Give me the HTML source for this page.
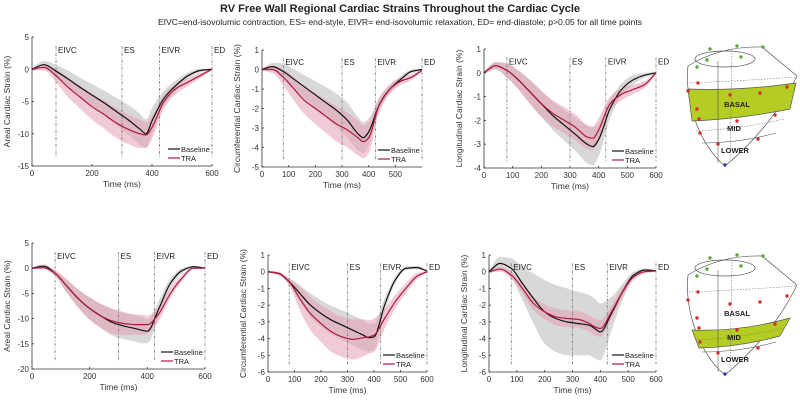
<!DOCTYPE html>
<html><head><meta charset="utf-8">
<style>
body{margin:0;background:#fff;width:800px;height:400px;overflow:hidden;font-family:"Liberation Sans",Arial,sans-serif}
svg text{font-family:"Liberation Sans",Arial,sans-serif}
</style></head>
<body>
<svg id="fig" width="800" height="400" viewBox="0 0 800 400">
<text x="400" y="12" text-anchor="middle" font-size="11" font-weight="bold" fill="#222">RV Free Wall Regional Cardiac Strains Throughout the Cardiac Cycle</text>
<text x="400" y="25" text-anchor="middle" font-size="8.6" fill="#222">EIVC=end-isovolumic contraction, ES= end-style, EIVR= end-isovolumic relaxation, ED= end-diastole; p&gt;0.05 for all time points</text>
<g id="heart1"></g>
<g id="heart2"></g>
</svg>
<script>
// shared data
const times=[0,40,80,120,160,200,240,280,320,360,380,400,440,480,520,560,600];
const events=[80,300,425,600];
const eventLabels=["EIVC","ES","EIVR","ED"];
// panel 1 areal top
const p1Base=[0,0.7,-0.3,-1.5,-2.8,-4,-5.2,-6.5,-7.8,-9.3,-10,-8,-4.5,-2.5,-1,-0.2,0];
const p1BaseSd=[0.2,0.6,1,1.3,1.5,1.7,1.9,2.1,2.3,2.4,2.2,2,1.2,0.8,0.5,0.3,0.1];
const p1Tra=[0,0.3,-1,-2.8,-4.3,-5.8,-7,-8.3,-9.3,-10,-10.2,-9,-5,-3,-2,-1,0];
const p1TraSd=[0.2,0.5,1,1.5,1.8,2,2.2,2.3,2.3,2.2,2,1.8,1.1,0.8,0.6,0.4,0.1];
// panel 2 circumferential top
const p2Base=[0,0.15,-0.1,-0.5,-0.9,-1.3,-1.7,-2.1,-2.6,-3.3,-3.5,-3.2,-1.8,-1,-0.5,-0.1,0];
const p2BaseSd=[0.05,0.2,0.4,0.5,0.6,0.7,0.8,0.85,0.9,0.85,0.8,0.7,0.3,0.2,0.15,0.1,0.05];
const p2Tra=[0,0,-0.4,-1,-1.6,-2,-2.4,-2.8,-3.1,-3.5,-3.7,-3.5,-1.8,-1,-0.6,-0.4,-0.05];
const p2TraSd=[0.05,0.2,0.4,0.6,0.7,0.8,0.85,0.9,0.9,0.9,0.85,0.8,0.4,0.25,0.2,0.15,0.05];
// panel 3 longitudinal top
const p3Base=[0,0.3,0.1,-0.3,-0.8,-1.3,-1.8,-2.2,-2.6,-3,-3.1,-2.8,-1.5,-0.7,-0.3,-0.1,0];
const p3BaseSd=[0.05,0.15,0.3,0.4,0.5,0.55,0.6,0.65,0.7,0.8,0.8,0.7,0.4,0.25,0.2,0.1,0.05];
const p3Tra=[0,0.3,0.1,-0.3,-0.8,-1.3,-1.7,-2,-2.3,-2.7,-2.75,-2.4,-1.3,-0.9,-0.7,-0.5,0];
const p3TraSd=[0.05,0.15,0.3,0.4,0.5,0.55,0.55,0.55,0.55,0.5,0.5,0.5,0.3,0.25,0.2,0.15,0.05];
// panel 4 areal bottom
const p4Base=[0,0.4,-1,-3.5,-6,-8,-9.5,-10.8,-11.5,-12,-12.3,-12.5,-8,-3,-0.5,0.3,0];
const p4BaseSd=[0.2,0.4,0.6,1.3,1.8,2.2,2.4,2.6,2.6,2.6,2.6,2.4,1.6,1,0.5,0.2,0.1];
const p4Tra=[0,0.1,-1,-3.5,-6,-8,-9.5,-10.5,-11,-11.2,-11.2,-11.2,-9,-5,-2,0,0];
const p4TraSd=[0.2,0.3,0.6,1.3,1.8,2.2,2.4,2.5,2.3,2,2,1.8,1.4,1,0.6,0.2,0.1];
// panel 5 circumferential bottom
const p5Base=[0,-0.1,-0.6,-1.3,-2,-2.5,-2.9,-3.2,-3.5,-3.8,-3.95,-3.9,-2,-0.5,0.2,0.25,0.05];
const p5BaseSd=[0.05,0.1,0.2,0.5,0.7,0.8,0.85,0.9,0.9,0.9,0.85,0.8,0.4,0.2,0.1,0.1,0.05];
const p5Tra=[0,-0.1,-0.6,-1.6,-2.5,-3.1,-3.6,-3.9,-4.05,-3.95,-3.9,-3.8,-2.8,-1.8,-1,-0.3,0];
const p5TraSd=[0.05,0.1,0.2,0.7,1,1.1,1.2,1.2,1.2,1.1,1,1,0.6,0.4,0.3,0.2,0.05];
// panel 6 longitudinal bottom
const p6Base=[0,0.5,0.2,-0.7,-1.6,-2.4,-2.8,-3,-3.1,-3.2,-3.4,-3.6,-2.5,-1.2,-0.2,0.1,0.05];
const p6BaseSd=[0.1,0.4,0.6,1,1.5,1.9,2,2,1.9,1.8,1.8,1.7,1,0.5,0.2,0.1,0.05];
const p6Tra=[0,0.15,-0.2,-1,-1.9,-2.4,-2.7,-2.8,-2.85,-3.1,-3.3,-3.4,-2.4,-1.2,-0.3,0,0.05];
const p6TraSd=[0.05,0.15,0.2,0.3,0.4,0.45,0.5,0.5,0.5,0.5,0.5,0.5,0.4,0.3,0.2,0.1,0.05];

const yTicks1=[5,0,-5,-10,-15], yTicks2=[1,0,-1,-2,-3,-4,-5], yTicks3=[1,0,-1,-2,-3,-4];
const yTicks4=[5,0,-5,-10,-15,-20], yTicks5=[1,0,-1,-2,-3,-4,-5,-6], yTicks6=[1,0,-1,-2,-3,-4,-5,-6];
const xTicksA=[0,200,400,600], xTicksB=[0,100,200,300,400,500], xTicksC=[0,100,200,300,400,500,600];

const panels=[
 {name:"areal-top",x0:32,x1:212,y0:37,y1:166,ymax:5,ymin:-15,yt:yTicks1,xt:xTicksA,lab:"Areal Cardiac Strain (%)",b:p1Base,bs:p1BaseSd,t:p1Tra,ts:p1TraSd},
 {name:"circumferential-top",x0:262,x1:422,y0:50,y1:167,ymax:1,ymin:-5,yt:yTicks2,xt:xTicksB,lab:"Circumferential Cardiac Strain (%)",b:p2Base,bs:p2BaseSd,t:p2Tra,ts:p2TraSd},
 {name:"longitudinal-top",x0:484,x1:656,y0:49,y1:168,ymax:1,ymin:-4,yt:yTicks3,xt:xTicksC,lab:"Longitudinal Cardiac Strain (%)",b:p3Base,bs:p3BaseSd,t:p3Tra,ts:p3TraSd},
 {name:"areal-bottom",x0:32,x1:205,y0:243,y1:369,ymax:5,ymin:-20,yt:yTicks4,xt:xTicksA,lab:"Areal Cardiac Strain (%)",b:p4Base,bs:p4BaseSd,t:p4Tra,ts:p4TraSd},
 {name:"circumferential-bottom",x0:268,x1:427,y0:255,y1:372,ymax:1,ymin:-6,yt:yTicks5,xt:xTicksC,lab:"Circumferential Cardiac Strain (%)",b:p5Base,bs:p5BaseSd,t:p5Tra,ts:p5TraSd},
 {name:"longitudinal-bottom",x0:489,x1:656,y0:255,y1:372,ymax:1,ymin:-6,yt:yTicks6,xt:xTicksC,lab:"Longitudinal Cardiac Strain (%)",b:p6Base,bs:p6BaseSd,t:p6Tra,ts:p6TraSd}
];
const NS="http://www.w3.org/2000/svg";
const fig=document.getElementById('fig');
function mk(tag,attrs,parent){const e=document.createElementNS(NS,tag);for(const k in attrs)e.setAttribute(k,attrs[k]);(parent||fig).appendChild(e);return e;}
function smooth(pts,noMove){
 const n=pts.length, d=[], m=[];
 for(let i=0;i<n-1;i++)d.push((pts[i+1][1]-pts[i][1])/(pts[i+1][0]-pts[i][0]));
 m[0]=d[0]; m[n-1]=d[n-2];
 for(let i=1;i<n-1;i++){ if(d[i-1]*d[i]<=0)m[i]=0; else m[i]=2/(1/d[i-1]+1/d[i]); }
 let s=(noMove?"L":"M")+pts[0][0].toFixed(1)+","+pts[0][1].toFixed(1);
 for(let i=0;i<n-1;i++){const h=(pts[i+1][0]-pts[i][0])/3;
  s+="C"+(pts[i][0]+h).toFixed(1)+","+(pts[i][1]+m[i]*h).toFixed(1)+" "+(pts[i+1][0]-h).toFixed(1)+","+(pts[i+1][1]-m[i+1]*h).toFixed(1)+" "+pts[i+1][0].toFixed(1)+","+pts[i+1][1].toFixed(1);}
 return s;}
panels.forEach(p=>{
 const g=mk('g',{});
 
 
 const X=v=>p.x0+(v-0)/600*(p.x1-p.x0);
 const Y=v=>p.y0+(p.ymax-v)/(p.ymax-p.ymin)*(p.y1-p.y0);
 function band(m,s,fill,nm){
  const up=times.map((t,i)=>[X(t),Y(m[i]+s[i])]);
  const lo=times.map((t,i)=>[X(t),Y(m[i]-s[i])]).reverse();
  const d=smooth(up)+smooth(lo,true)+"Z";
  const e=mk('path',{d:d,fill:fill,'fill-opacity':0.55},g);
  
  
 }
 band(p.b,p.bs,'#b8b8b8','baseline-sd-band');
 band(p.t,p.ts,'#e3a0b2','tra-sd-band');
 events.forEach((ev,i)=>{
  const top=Y(p.ymax)+(p.y1-p.y0)*0.07;
  const l=mk('line',{x1:X(ev),x2:X(ev),y1:top,y2:p.y1-(p.y1-p.y0)*0.06,stroke:'#777','stroke-width':0.8,'stroke-dasharray':'3,1.5,1,1.5'},g);
  
  
  const tx=mk('text',{x:X(ev)+2,y:top+7,'font-size':8,fill:'#222'},g);
  tx.textContent=eventLabels[i];
  
  
 });
 const lb=mk('path',{d:smooth(times.map((t,i)=>[X(t),Y(p.b[i])])),fill:'none',stroke:'#111','stroke-width':1.2},g);
 
 
 const lt=mk('path',{d:smooth(times.map((t,i)=>[X(t),Y(p.t[i])])),fill:'none',stroke:'#b0183e','stroke-width':1.2},g);
 
 
 const ax=mk('path',{d:`M${p.x0},${p.y0}V${p.y1}H${p.x1}`,fill:'none',stroke:'#333','stroke-width':0.8},g);
 
 
 p.yt.forEach(v=>{mk('line',{x1:p.x0,x2:p.x0+2,y1:Y(v),y2:Y(v),stroke:'#333','stroke-width':0.8},g);
  const t=mk('text',{x:p.x0-3,y:Y(v)+3,'font-size':8,'text-anchor':'end',fill:'#333'},g);t.textContent=v;
  
  });
 p.xt.forEach(v=>{mk('line',{x1:X(v),x2:X(v),y1:p.y1,y2:p.y1-2,stroke:'#333','stroke-width':0.8},g);
  const t=mk('text',{x:X(v),y:p.y1+10,'font-size':8,'text-anchor':'middle',fill:'#333'},g);t.textContent=v;
  
  });
 const xl=mk('text',{x:(p.x0+p.x1)/2,y:p.y1+21,'font-size':8.5,'text-anchor':'middle',fill:'#333'},g);xl.textContent='Time (ms)';
 
 
 const cy=(p.y0+p.y1)/2, cx=p.x0-22;
 const yl=mk('text',{x:cx,y:cy,'font-size':8.5,'text-anchor':'middle',fill:'#333',transform:`rotate(-90 ${cx} ${cy})`},g);yl.textContent=p.lab;
 
 
 const lx=p.x1-44, ly=p.y1-17;
 const lg=mk('g',{},g);
 
 
 mk('line',{x1:lx,x2:lx+12,y1:ly,y2:ly,stroke:'#111','stroke-width':1.2},lg);
 const t1=mk('text',{x:lx+13,y:ly+3,'font-size':7.5,fill:'#222'},lg);t1.textContent='Baseline';
 
 
 mk('line',{x1:lx,x2:lx+12,y1:ly+9,y2:ly+9,stroke:'#b0183e','stroke-width':1.2},lg);
 const t2=mk('text',{x:lx+13,y:ly+12,'font-size':7.5,fill:'#222'},lg);t2.textContent='TRA';
 
 
});
function heart(id,oy,band){
 const g=document.getElementById(id);
 const bandPath=band=='basal'
  ? `M688,${oy+48} Q740,${oy+50} 796,${oy+42} L790,${oy+68} Q740,${oy+78} 692,${oy+80}Z`
  : `M692,${oy+80} Q740,${oy+82} 790,${oy+68} L780,${oy+86} Q740,${oy+97} 699,${oy+98}Z`;
 const greens=[[710,8],[737,5],[763,6],[707,19],[741,16],[697,26]];
 const reds=[[698,42],[688,50],[730,54],[760,52],[787,46],[697,68],[699,78],[737,80],[775,74],[700,92],[718,103],[758,98],[725,124]];
 g.innerHTML=`<path d="M688,${oy+25} C684,${oy+60} 700,${oy+105} 725,${oy+125} C755,${oy+100} 780,${oy+70} 797,${oy+35}" fill="#fff" stroke="#555" stroke-width="0.7"/>
 <path d="M688,${oy+25} Q720,${oy+5} 762,${oy+6} L797,${oy+35}" fill="none" stroke="#555" stroke-width="0.7"/>
 <ellipse cx="725" cy="${oy+18}" rx="30" ry="8" fill="none" stroke="#555" stroke-width="0.7"/>
 <path d="${bandPath}" fill="#b5cc22" stroke="#555" stroke-width="0.7"/>
 <path d="M689,${oy+42} Q740,${oy+40} 796,${oy+36}" fill="none" stroke="#777" stroke-width="0.6" stroke-dasharray="1.5,1.5"/>
 <path d="M696,${oy+90} Q740,${oy+88} 784,${oy+78}" fill="none" stroke="#777" stroke-width="0.6" stroke-dasharray="1.5,1.5"/>
 <path d="M702,${oy+102} Q740,${oy+102} 776,${oy+92}" fill="none" stroke="#555" stroke-width="0.6"/>
 <line x1="718" y1="${oy+20}" x2="718" y2="${oy+122}" stroke="#555" stroke-width="0.6"/>
 <line x1="732" y1="${oy+12}" x2="730" y2="${oy+120}" stroke="#777" stroke-width="0.6" stroke-dasharray="1.5,1.5"/>
 <text x="737" y="${oy+66}" font-size="7.5" font-weight="bold" text-anchor="middle" fill="#222">BASAL</text>
 <text x="734" y="${oy+90}" font-size="7.5" font-weight="bold" text-anchor="middle" fill="#222">MID</text>
 <text x="735" y="${oy+112}" font-size="7.5" font-weight="bold" text-anchor="middle" fill="#222">LOWER</text>
 ${greens.map(c=>`<circle cx="${c[0]}" cy="${oy+c[1]}" r="1.7" fill="#5aa838"/>`).join('')}
 ${reds.map((c,i)=>`<circle cx="${c[0]}" cy="${oy+c[1]}" r="1.7" fill="${i==12?'#3a3aa8':'#d0302a'}"/>`).join('')}`;
}
heart('heart1',41,'basal');
heart('heart2',250,'mid');
</script>
</body></html>
